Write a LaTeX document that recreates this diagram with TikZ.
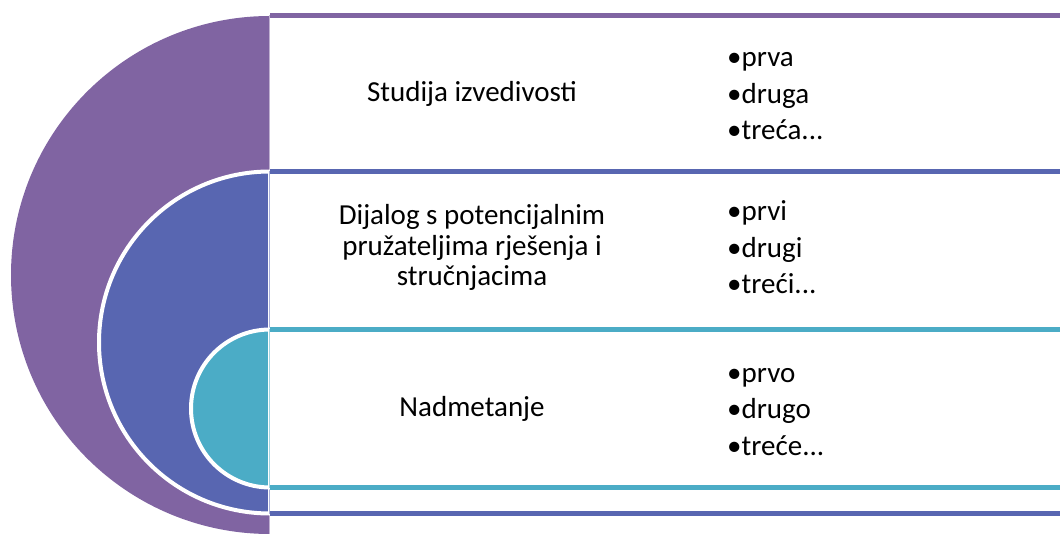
\documentclass[tikz,border=0pt]{standalone}
\usepackage{fontspec}
\setmainfont{Carlito}
\definecolor{cpurple}{HTML}{8064A2}
\definecolor{cblue}{HTML}{5866B1}
\definecolor{cteal}{HTML}{4BACC6}
\tikzset{
  disc/.style={draw=white, line width=4pt},
  frame/.style={line width=4.5pt},
  edge/.style={line width=0.9pt},
  lbl/.style={font=\fontsize{29}{30.5}\selectfont, align=center, inner sep=0pt, anchor=base},
  blist/.style={font=\fontsize{29}{36.5}\selectfont, align=left, inner sep=0pt, anchor=base west},
}
\begin{document}
\begin{tikzpicture}[x=1pt,y=-1pt]
\useasboundingbox (0,0) rectangle (1060,534);
\clip (0,0) rectangle (1060,534);
% purple level
\fill[cpurple] (270,16) arc[start angle=270,end angle=90,radius=259] -- cycle;
\fill[white] (270,16) rectangle (1070,560);
\draw[frame,cpurple] (270,15.5) -- (1070,15.5);
\draw[edge,cpurple!50] (269.5,15.5) -- (269.5,540);
% blue level
\draw[disc,fill=cblue] (270,171.5) arc[start angle=270,end angle=90,radius=171] -- cycle;
\fill[white] (270,171.5) rectangle (1070,513.5);
\draw[frame,cblue] (270,171.5) -- (1070,171.5);
\draw[frame,cblue] (270,513.5) -- (1070,513.5);
\draw[edge,cblue!50] (269.5,171.5) -- (269.5,513.5);
% teal level
\draw[disc,fill=cteal] (270,329.5) arc[start angle=270,end angle=90,radius=79] -- cycle;
\fill[white] (272,329.5) rectangle (1070,487.5);
\draw[frame,cteal] (270,329.5) -- (1070,329.5);
\draw[frame,cteal] (270,487.5) -- (1070,487.5);
\draw[edge,cteal!50] (269.5,329.5) -- (269.5,487.5);
% labels (anchored at the baseline of the last line)
\node[lbl] (l1) at (472,102) {Studija izvedivosti};
\node[lbl] (l2) at (472,286) {Dijalog s potencijalnim\\pružateljima rješenja i\\stručnjacima};
\node[lbl] (l3) at (472,417) {Nadmetanje};
\node[blist] (b1) at (727,140) {•prva\\•druga\\•treća...};
\node[blist] (b2) at (727,294) {•prvi\\•drugi\\•treći...};
\node[blist] (b3) at (727,455) {•prvo\\•drugo\\•treće...};
\end{tikzpicture}
\end{document}
